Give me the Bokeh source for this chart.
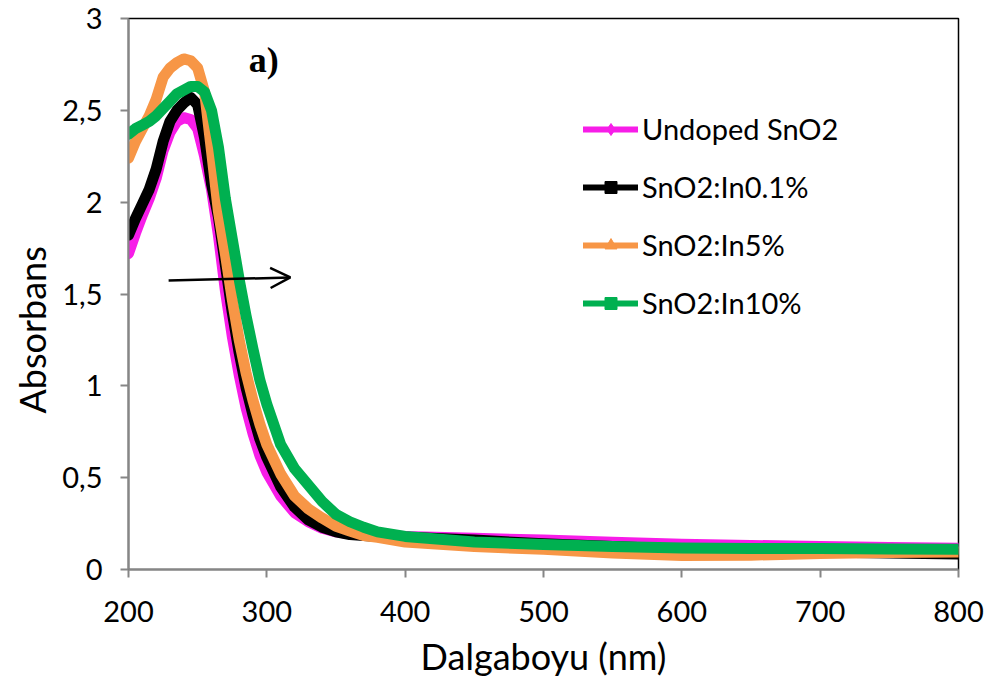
from bokeh.plotting import figure
from bokeh.models import (Range1d, FixedTicker, Legend, LegendItem, Arrow,
                          OpenHead, Label, ColumnDataSource, Title)
from bokeh.embed import file_html
from bokeh.resources import INLINE

# ---------------- data ----------------
wavelength = [200, 205, 210, 215, 220, 225, 230, 235, 240, 245, 250, 255, 260,
              265, 270, 275, 280, 285, 290, 295, 300, 310, 320, 330, 340, 350,
              360, 370, 380, 400, 450, 500, 550, 600, 650, 700, 750, 800]

undoped = [1.72, 1.83, 1.93, 2.02, 2.13, 2.28, 2.38, 2.44, 2.46, 2.45, 2.40, 2.25, 2.07,
           1.82, 1.52, 1.27, 1.06, 0.88, 0.74, 0.62, 0.53, 0.40, 0.31, 0.26, 0.225, 0.205,
           0.195, 0.19, 0.185, 0.18, 0.17, 0.16, 0.148, 0.138, 0.131, 0.125, 0.12, 0.116]

in01 = [1.82, 1.91, 1.99, 2.07, 2.18, 2.33, 2.44, 2.50, 2.54, 2.57, 2.53, 2.35, 2.10,
        1.92, 1.66, 1.40, 1.18, 0.99, 0.84, 0.71, 0.61, 0.45, 0.34, 0.27, 0.23, 0.205,
        0.19, 0.185, 0.18, 0.175, 0.16, 0.14, 0.125, 0.11, 0.10, 0.095, 0.09, 0.085]

in5 = [2.24, 2.33, 2.40, 2.47, 2.56, 2.68, 2.73, 2.76, 2.78, 2.77, 2.73, 2.60, 2.28,
       1.95, 1.72, 1.47, 1.25, 1.07, 0.92, 0.79, 0.68, 0.52, 0.40, 0.33, 0.28, 0.235,
       0.21, 0.185, 0.175, 0.15, 0.125, 0.11, 0.09, 0.076, 0.078, 0.087, 0.092, 0.095]

in10 = [2.37, 2.40, 2.42, 2.44, 2.47, 2.51, 2.55, 2.59, 2.61, 2.63, 2.63, 2.60, 2.50,
        2.30, 2.02, 1.80, 1.58, 1.38, 1.20, 1.03, 0.90, 0.68, 0.55, 0.46, 0.37, 0.30,
        0.26, 0.23, 0.205, 0.18, 0.15, 0.136, 0.125, 0.117, 0.115, 0.114, 0.112, 0.11]

series_names = ["Undoped SnO2", "SnO2:In0.1%", "SnO2:In5%", "SnO2:In10%"]
series_values = [undoped, in01, in5, in10]
series_colors = ["#F71DE8", "#000000", "#F79646", "#00B050"]
series_markers = ["diamond", "square", "triangle", "square"]

x_ticks = [200, 300, 400, 500, 600, 700, 800]
y_ticks = [0, 0.5, 1, 1.5, 2, 2.5, 3]
y_tick_labels = ["0", "0,5", "1", "1,5", "2", "2,5", "3"]

arrow_start = (229, 1.573)
arrow_end = (317, 1.59)
panel_label = "a)"
panel_label_pos = (287, 2.775)

FONT = "Lato"

# ---------------- figure ----------------
p = figure(width=992, height=684, x_range=Range1d(200, 800), y_range=Range1d(0, 3),
           output_backend="svg", toolbar_location=None,
           min_border_left=128, min_border_right=34, min_border_top=18,
           min_border_bottom=115)

p.xgrid.visible = False
p.ygrid.visible = False
p.outline_line_color = "black"
p.outline_line_width = 1.5
p.background_fill_color = "white"
p.border_fill_color = "white"

for ax in (p.xaxis[0], p.yaxis[0]):
    ax.axis_line_color = "#868686"
    ax.axis_line_width = 2
    ax.major_tick_line_color = "#868686"
    ax.major_tick_line_width = 2
    ax.major_tick_out = 8
    ax.major_tick_in = 0
    ax.minor_tick_line_color = None
    ax.major_label_text_font = FONT
    ax.major_label_text_font_size = "29px"
    ax.major_label_text_color = "black"

p.xaxis.ticker = FixedTicker(ticks=x_ticks)
p.yaxis.ticker = FixedTicker(ticks=y_ticks)
p.yaxis.major_label_overrides = {t: l for t, l in zip(y_ticks, y_tick_labels)}
p.xaxis.major_label_standoff = 23
p.yaxis.major_label_standoff = 18

p.xaxis.axis_label = "Dalgaboyu (nm)"
p.xaxis.axis_label_text_font = FONT
p.xaxis.axis_label_text_font_size = "36px"
p.xaxis.axis_label_text_font_style = "normal"
p.xaxis.axis_label_text_color = "black"
p.xaxis.axis_label_standoff = 9

p.add_layout(Title(text="Absorbans", align="left", offset=156,
                   text_font=FONT, text_font_size="36px",
                   text_font_style="normal", text_color="black",
                   standoff=12), "left")

items = []
for name, vals, col, mk in zip(series_names, series_values, series_colors, series_markers):
    src = ColumnDataSource(dict(x=wavelength, y=vals))
    p.line("x", "y", source=src, line_color=col, line_width=11,
           line_join="round", line_cap="round")
    # legend-only glyphs (no visible data point)
    dummy = ColumnDataSource(dict(x=[float("nan")], y=[float("nan")]))
    lr = p.line("x", "y", source=dummy, line_color=col, line_width=6,
                line_cap="round")
    mr = p.scatter("x", "y", source=dummy, marker=mk, size=10,
                   fill_color=col, line_color=col)
    items.append(LegendItem(label=name, renderers=[lr, mr]))

legend = Legend(items=items, location=(455, 249), orientation="vertical",
                glyph_width=55, glyph_height=30, label_height=30, spacing=23,
                label_standoff=4, padding=0, margin=0,
                label_text_font=FONT, label_text_font_size="29px",
                label_text_color="black",
                border_line_color=None, background_fill_alpha=0)
p.add_layout(legend)

p.add_layout(Arrow(end=OpenHead(size=20, line_width=2.5, line_color="black"),
                   x_start=arrow_start[0], y_start=arrow_start[1],
                   x_end=arrow_end[0], y_end=arrow_end[1],
                   line_width=2.5, line_color="black"))

p.add_layout(Label(x=panel_label_pos[0], y=panel_label_pos[1], text=panel_label,
                   text_font="Liberation Serif", text_font_style="bold",
                   text_font_size="36px", text_color="black",
                   text_baseline="alphabetic"))

open("out.html", "w").write(file_html(p, INLINE))
